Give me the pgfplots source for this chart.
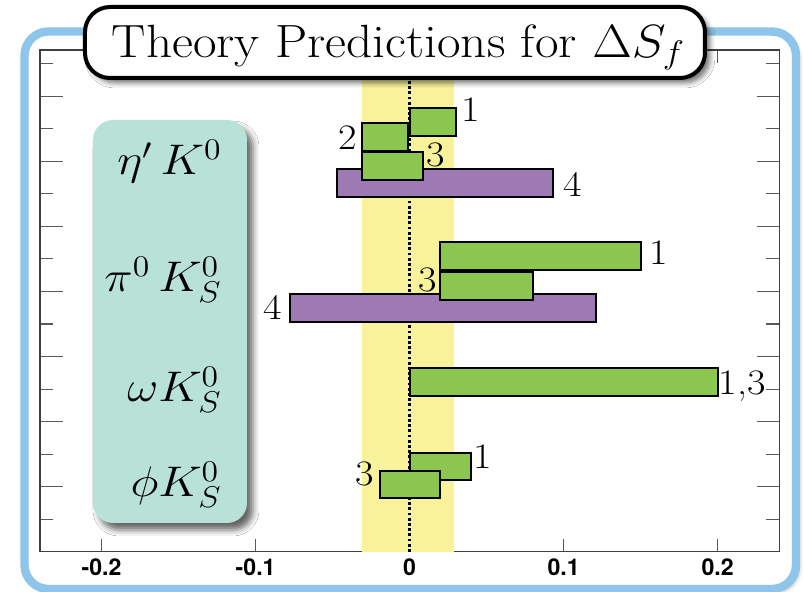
\RequirePackage{fix-cm}
\documentclass[border=0pt]{standalone}
\usepackage{fontspec}
\setsansfont{TeX Gyre Heros}
\usepackage{graphicx}
\usepackage{pgfplots}
\pgfplotsset{compat=1.18}
\usetikzlibrary{shadows.blur}

\definecolor{barGreen}{RGB}{139,198,78}
\definecolor{barPurple}{RGB}{158,122,180}
\definecolor{bandYellow}{RGB}{248,243,155}
\definecolor{panelTeal}{RGB}{184,225,216}
\definecolor{frameBlue}{RGB}{142,197,234}

% one prediction range: xlow, xhigh, ybottom, ytop, colour
\newcommand{\rangebar}[5]{%
  \addplot[fill=#5, draw=black, line width=1bp] coordinates {(#1,#3) (#2,#3) (#2,#4) (#1,#4)} -- cycle;}
% slightly widened lettering
\newcommand{\wide}[1]{\scalebox{1.12}[1]{#1}}

\begin{document}
\begin{tikzpicture}
\path[use as bounding box] (0,0) rectangle (402bp,-296bp);

% outer frame
\begin{scope}[x=0.5bp,y=-0.5bp]
  \draw[frameBlue, line width=4.2bp, fill=white, rounded corners=12bp,
        blur shadow={shadow xshift=1.5bp, shadow yshift=-1.5bp, shadow blur radius=2bp, shadow opacity=35}]
    (24.5,31.5) rectangle (796,589);
\end{scope}

\begin{axis}[
  at={(20bp,-275.9bp)}, anchor=south west,
  scale only axis, width=369.65bp, height=250.9bp,
  xmin=-0.24, xmax=0.24, ymin=0, ymax=7.71,
  clip=false,
  axis line style={black!75, line width=0.6bp},
  tick style={black!65, line width=0.55bp},
  tick align=inside,
  major tick length=11.35bp, minor tick length=6.5bp,
  xtick={-0.2,-0.1,0,0.1,0.2},
  xticklabels={-0.2,-0.1,0,0.1,0.2},
  major x tick style={draw=none},
  minor xtick={-0.2,-0.1,0,0.1,0.2},
  ytick={1,2,3,4,5,6,7}, yticklabels={},
  minor ytick={0.5,1.5,2.5,3.5,4.5,5.5,6.5,7.5},
  xticklabel style={font=\sffamily\bfseries\fontsize{11.6}{13}\selectfont},
]
  % band around zero
  \addplot[fill=bandYellow, draw=none] coordinates {(-0.031,0) (0.029,0) (0.029,7.71) (-0.031,7.71)} -- cycle;
  \addplot[black, line width=1.6bp, dash pattern=on 1.4bp off 1.2bp] coordinates {(0,0) (0,7.71)};

  % eta' K0
  \rangebar{-0.047}{0.093}{5.456}{5.882}{barPurple}
  \rangebar{0}{0.030}{6.389}{6.815}{barGreen}
  \rangebar{-0.031}{-0.001}{6.159}{6.584}{barGreen}
  \rangebar{-0.031}{0.0085}{5.713}{6.148}{barGreen}
  % pi0 K0S
  \rangebar{-0.078}{0.121}{3.536}{3.966}{barPurple}
  \rangebar{0.020}{0.150}{4.325}{4.756}{barGreen}
  \rangebar{0.020}{0.080}{3.864}{4.304}{barGreen}
  % omega K0S
  \rangebar{0}{0.200}{2.399}{2.829}{barGreen}
  % phi K0S
  \rangebar{0}{0.040}{1.103}{1.523}{barGreen}
  \rangebar{-0.019}{0.020}{0.822}{1.246}{barGreen}

  \begin{scope}[every node/.style={anchor=base, inner sep=0pt, font=\fontsize{18}{20}\selectfont}]
    \node at (axis cs:0.0395,6.609) {\wide{1}};
    \node at (axis cs:-0.0405,6.185) {\wide{2}};
    \node at (axis cs:0.0172,5.917) {\wide{3}};
    \node at (axis cs:0.1056,5.456) {\wide{4}};
    \node at (axis cs:0.1615,4.407) {\wide{1}};
    \node at (axis cs:0.0115,3.997) {\wide{3}};
    \node at (axis cs:-0.0888,3.562) {\wide{4}};
    \node at (axis cs:0.2158,2.420) {\wide{1,3}};
    \node at (axis cs:0.0476,1.283) {\wide{1}};
    \node at (axis cs:-0.029,1.026) {\wide{3}};
  \end{scope}
\end{axis}

\begin{scope}[x=0.5bp,y=-0.5bp]
  % channel panel
  \fill[panelTeal, rounded corners=10bp,
        blur shadow={shadow xshift=3bp, shadow yshift=-3.5bp, shadow blur radius=3bp, shadow opacity=60}]
    (93,120) rectangle (247,523);
  \begin{scope}[every node/.style={anchor=base east, inner sep=0pt, font=\fontsize{21.5}{24}\selectfont}]
    \node at (222,175) {\wide{$\eta'\,K^0$}};
    \node at (222,291.7) {\wide{$\pi^0\,K^0_S$}};
    \node at (222,401.7) {\wide{$\omega K^0_S$}};
    \node at (222,496.7) {\wide{$\phi K^0_S$}};
  \end{scope}
  % title box
  \draw[black, line width=2bp, fill=white, rounded corners=12.5bp,
        blur shadow={shadow xshift=2.5bp, shadow yshift=-2.5bp, shadow blur radius=2.5bp, shadow opacity=55}]
    (85,7) rectangle (705,78);
  \node[anchor=base, inner sep=0pt, font=\fontsize{23.4}{28}\selectfont] at (398.5,57)
    {\scalebox{1.1}[1]{Theory Predictions for $\Delta S_f$}};
\end{scope}
\end{tikzpicture}
\end{document}
